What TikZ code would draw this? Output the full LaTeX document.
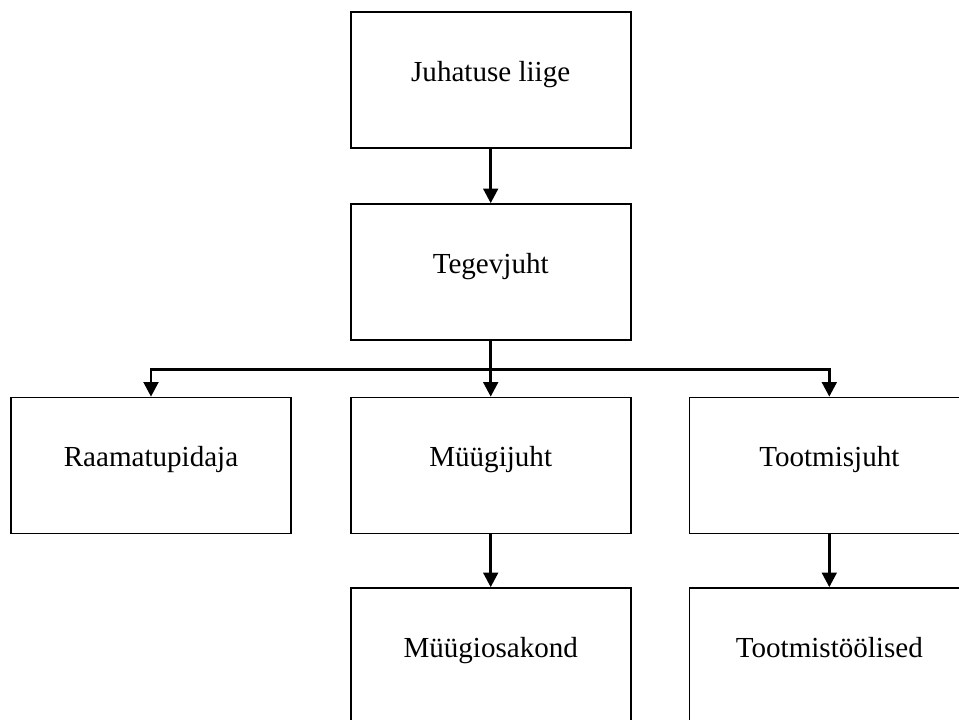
\documentclass[tikz,border=0pt]{standalone}
\usepackage{fontspec}
\setmainfont{Liberation Serif}
\usetikzlibrary{arrows.meta}

\tikzset{
  box/.style={draw, line width=1.2pt, rectangle, minimum width=210pt, minimum height=102pt,
              inner sep=0pt, text height=0.7em, text depth=0.53em,
              font=\fontsize{21.8pt}{26pt}\selectfont},
  arr/.style={line width=2.2pt, -{Triangle[width=11pt, length=11pt]}},
  bus/.style={line width=2.2pt}
}

\begin{document}
\begin{tikzpicture}[x=0.75pt, y=-0.75pt]
    % --- 1. Page frame ---
    \useasboundingbox (0,0) rectangle (959,720);
    \clip (0,0) rectangle (959,720);

    % --- 2. Boxes ---
    \node[box] (juhatus) at (490.7, 80) {Juhatuse liige};
    \node[box] (tegevjuht) at (490.7, 272) {Tegevjuht};
    \node[box] (raamat) at (151, 465.5) {Raamatupidaja};
    \node[box] (myygijuht) at (490.7, 465.5) {Müügijuht};
    \node[box] (tootjuht) at (829.3, 465.5) {Tootmisjuht};
    \node[box] (myygiosakond) at (490.7, 656) {Müügiosakond};
    \node[box] (tootmist) at (829.3, 656) {Tootmistöölised};

    % --- 3. Connectors ---
    \draw[arr] (juhatus) -- (tegevjuht);
    \coordinate (jaotus) at (490.7, 369.3); % branch point
    \draw[bus] (tegevjuht.south) -- (jaotus);
    \draw[arr] (jaotus) -| (raamat.north);
    \draw[arr] (jaotus) -- (myygijuht.north);
    \draw[arr] (jaotus) -| (tootjuht.north);
    \draw[arr] (myygijuht) -- (myygiosakond);
    \draw[arr] (tootjuht) -- (tootmist);

\end{tikzpicture}
\end{document}
